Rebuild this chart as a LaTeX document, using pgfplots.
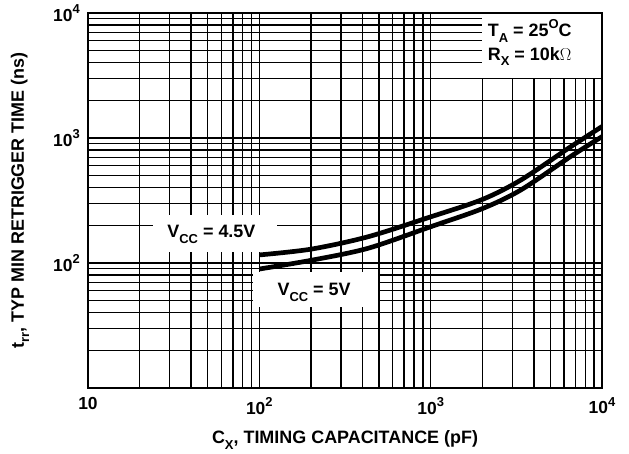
\documentclass[border=0pt]{standalone}
\usepackage{fontspec}
\setmainfont{Liberation Sans}
\usepackage{pgfplots}
\pgfplotsset{compat=1.18}
\newcommand\sups[1]{\raisebox{0.45em}{\fontsize{13}{13}\selectfont #1}}
\newcommand\subs[1]{\raisebox{-0.3em}{\fontsize{13}{13}\selectfont #1}}
\begin{document}
\begin{tikzpicture}
\fontsize{18}{20}\selectfont\bfseries
\begin{axis}[
  xmode=log, ymode=log,
  scale only axis, width=514bp, height=375bp,
  xmin=10, xmax=10000, ymin=10, ymax=10000,
  xtick={10,100,1000,10000},
  xticklabels={10,10\sups{2},10\sups{3},10\sups{4}},
  ytick={100,1000,10000},
  yticklabels={10\sups{2},10\sups{3},10\sups{4}},
  minor xtick={20,30,40,50,60,70,80,90,200,300,400,500,600,700,800,900,2000,3000,4000,5000,6000,7000,8000,9000},
  minor ytick={20,30,40,50,60,70,80,90,200,300,400,500,600,700,800,900,2000,3000,4000,5000,6000,7000,8000,9000},
  grid=both,
  major grid style={black, line width=1.45pt},
  minor grid style={black, line width=1.45pt},
  major tick length=0pt, minor tick length=0pt,
  axis line style={line width=1.9pt},
  tick label style={font=\fontsize{17.5}{20}\selectfont\bfseries},
  xticklabel style={yshift=-3bp},
  yticklabel style={xshift=-2bp},
  xlabel={C\subs{X}, TIMING CAPACITANCE (pF)},
  ylabel={t\subs{rr}, TYP MIN RETRIGGER TIME (ns)},
  every axis x label/.style={at={(rel axis cs:0.5,-0.1387)}, anchor=center, font=\fontsize{18}{20}\selectfont\bfseries},
  every axis y label/.style={at={(rel axis cs:-0.1323,0.5)}, rotate=90, anchor=center, font=\fontsize{18}{20}\selectfont\bfseries},
]
\coordinate (sw) at (rel axis cs:0,0);
\coordinate (ne) at (rel axis cs:1,1);
\fill[white] (axis cs:2000,3000) rectangle (axis cs:10000,10000);
\fill[white] (axis cs:24,122) rectangle (axis cs:127,242);
\fill[white] (axis cs:92,44.5) rectangle (axis cs:490,84.7);
\draw[line width=1.9pt] (rel axis cs:0,0) rectangle (rel axis cs:1,1);
\node[anchor=base west, inner sep=0pt] at (axis cs:2150,6430) {T\subs{A} = 25\sups{O}C};
\node[anchor=base west, inner sep=0pt] at (axis cs:2150,4207) {R\subs{X} = 10k$\Omega$};
\node[anchor=base west, inner sep=0pt] at (axis cs:29,158.5) {V\subs{CC} = 4.5V};
\node[anchor=base west, inner sep=0pt] at (axis cs:127.4,54.5) {V\subs{CC} = 5V};
\addplot[black, line width=4.7pt, smooth, tension=0.5] coordinates {
 (100,116) (200,129) (430,162) (1000,234) (2000,322) (3360,461) (6600,855) (10000,1235)};
\addplot[black, line width=4.7pt, smooth, tension=0.5] coordinates {
 (100,89.5) (200,105) (430,131) (1000,195) (2000,272) (3360,384) (6600,715) (10000,1025)};
\end{axis}
\pgfresetboundingbox
\path[use as bounding box] ([shift={(-88bp,-66bp)}]sw) rectangle ([shift={(27bp,13bp)}]ne);
\end{tikzpicture}
\end{document}
